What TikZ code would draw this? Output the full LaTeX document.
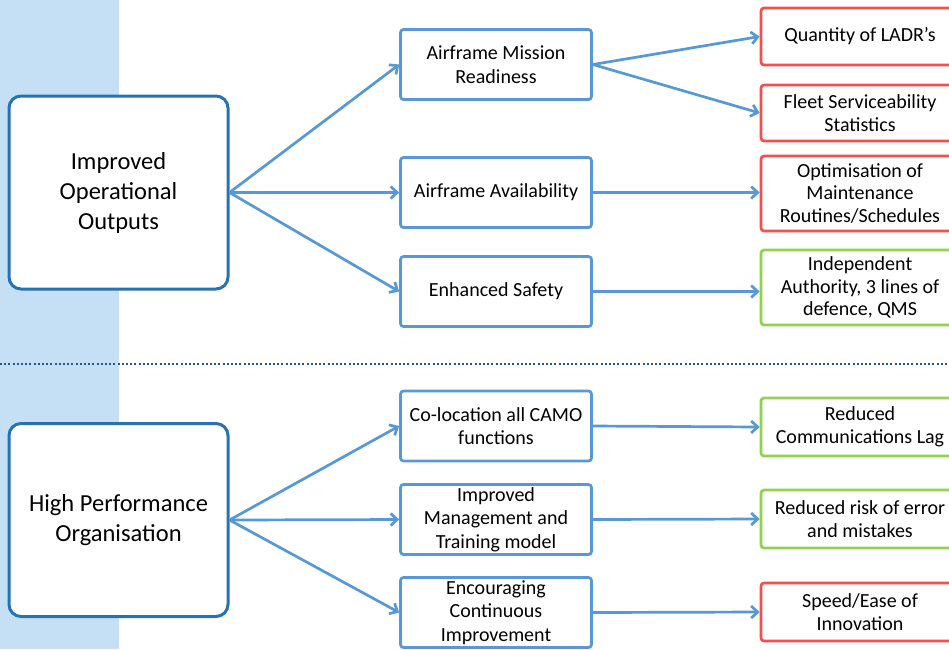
\documentclass[tikz,border=0pt]{standalone}
\usepackage{fontspec}
\setmainfont{Carlito}
\usetikzlibrary{arrows.meta}
\definecolor{bandblue}{RGB}{197,224,244}
\definecolor{goalblue}{RGB}{40,114,178}
\definecolor{linkblue}{RGB}{86,153,214}
\definecolor{dotblue}{RGB}{36,88,140}
\definecolor{resultred}{RGB}{245,78,78}
\definecolor{resultgreen}{RGB}{146,208,80}

\begin{document}
\begin{tikzpicture}[x=1pt,y=-1pt,
  goal/.style={draw=goalblue,line width=3pt,fill=white,rounded corners=12pt,
    minimum width=219pt,minimum height=193pt,align=center,
    font=\fontsize{24.5}{30}\selectfont},
  driver/.style={draw=linkblue,line width=2.7pt,fill=white,rounded corners=3pt,
    minimum width=191pt,minimum height=70pt,inner sep=0pt,align=center,
    font=\fontsize{20}{23.5}\selectfont},
  result/.style={line width=2.7pt,fill=white,rounded corners=3pt,
    minimum width=198pt,inner sep=0pt,align=center,
    font=\fontsize{20}{22.5}\selectfont},
  red/.style={result,draw=resultred},
  green/.style={result,draw=resultgreen},
  link/.style={draw=linkblue,line width=2.7pt,
    -{Straight Barb[length=6.5pt,width=12pt,line width=2.7pt]}}]
\clip (0,0) rectangle (949,649);
\fill[white] (0,0) rectangle (949,649);
\fill[bandblue] (0,0) rectangle (119,649);
\draw[dotblue,line width=2.2pt,dash pattern=on 2pt off 2.2pt] (0,364) -- (949,364);

% top half
\node[goal] (outputs) at (118.5,192.5) {Improved\\Operational\\Outputs};
\node[driver] (mission) at (496,64.5) {Airframe Mission\\Readiness};
\node[driver] (avail) at (496,192.5) {Airframe Availability};
\node[driver] (safety) at (496,291.5) {Enhanced Safety};
\node[red,minimum height=57pt] (ladr) at (860,36.5) {Quantity of LADR’s};
\node[red,minimum height=56pt] (fleet) at (860,113) {Fleet Serviceability\\Statistics};
\node[red,minimum height=75pt] (optim) at (860,193.5) {Optimisation of\\Maintenance\\Routines/Schedules};
\node[green,minimum height=75pt] (indep) at (860,287.5) {Independent\\Authority, 3 lines of\\defence, QMS};

% bottom half
\node[goal] (hpo) at (118.5,520) {High Performance\\Organisation};
\node[driver] (camo) at (496,426) {Co-location all CAMO\\functions};
\node[driver] (mgmt) at (496,519.5) {Improved\\Management and\\Training model};
\node[driver] (contimp) at (496,612.5) {Encouraging\\Continuous\\Improvement};
\node[green,minimum height=58pt] (commlag) at (860,427) {Reduced\\Communications Lag};
\node[green,minimum height=58pt] (risk) at (860,519) {Reduced risk of error\\and mistakes};
\node[red,minimum height=58pt] (speed) at (860,612) {Speed/Ease of\\Innovation};

\draw[link] (outputs.east) -- (mission.west);
\draw[link] (outputs.east) -- (avail.west);
\draw[link] (outputs.east) -- (safety.west);
\draw[link] (mission.east) -- (ladr.west);
\draw[link] (mission.east) -- (fleet.west);
\draw[link] (avail.east) -- (avail.east -| optim.west);
\draw[link] (safety.east) -- (safety.east -| indep.west);

\draw[link] (hpo.east) -- (camo.west);
\draw[link] (hpo.east) -- (mgmt.west);
\draw[link] (hpo.east) -- (contimp.west);
\draw[link] (camo.east) -- (commlag.west);
\draw[link] (mgmt.east) -- (risk.west);
\draw[link] (contimp.east) -- (speed.west);
\end{tikzpicture}
\end{document}
